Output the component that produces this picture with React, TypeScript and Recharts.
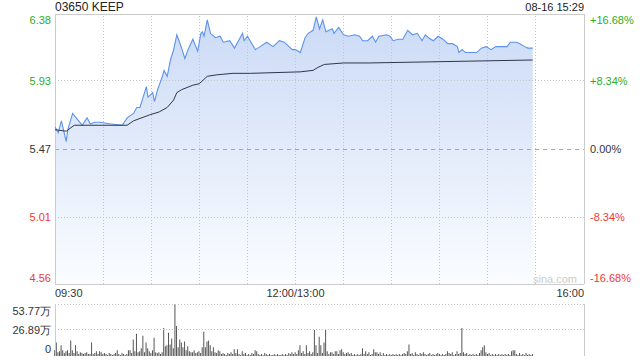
import React from 'react';
import { ComposedChart, Area, Line, Bar, XAxis, YAxis, ReferenceLine } from 'recharts';

// minutes since 09:30 (lunch break removed, 330 = 16:00)
const priceTimes = [0, 2, 4, 7, 8, 11, 14, 17, 20, 22, 25, 28, 34, 42, 45, 49, 51, 53, 57, 58, 61, 62, 64, 67, 68, 70, 72, 74, 76, 77, 79, 81, 83, 86, 89, 91, 92, 93, 95, 97, 100, 103, 105, 109, 112, 117, 118, 120, 125, 128, 132, 136, 140, 143, 148, 150, 153, 156, 158, 161, 163, 165, 167, 169, 173, 174, 177, 180, 183, 187, 190, 192, 195, 198, 200, 202, 207, 209, 211, 214, 217, 220, 223, 226, 229, 231, 233, 236, 239, 242, 245, 248, 251, 252, 254, 256, 258, 263, 266, 269, 272, 275, 279, 282, 284, 288, 290, 293, 295, 298];
const prices = [5.62, 5.58, 5.66, 5.52, 5.60, 5.71, 5.67, 5.63, 5.68, 5.64, 5.65, 5.65, 5.64, 5.63, 5.68, 5.71, 5.75, 5.75, 5.89, 5.82, 5.85, 5.79, 5.87, 5.96, 6.00, 5.96, 6.07, 6.14, 6.24, 6.21, 6.15, 6.08, 6.14, 6.21, 6.13, 6.25, 6.26, 6.23, 6.34, 6.25, 6.22, 6.23, 6.19, 6.20, 6.15, 6.25, 6.20, 6.23, 6.14, 6.16, 6.19, 6.16, 6.20, 6.19, 6.14, 6.14, 6.12, 6.22, 6.25, 6.27, 6.36, 6.28, 6.34, 6.26, 6.28, 6.25, 6.29, 6.24, 6.23, 6.24, 6.23, 6.20, 6.20, 6.23, 6.19, 6.23, 6.24, 6.23, 6.20, 6.21, 6.21, 6.27, 6.24, 6.25, 6.20, 6.24, 6.22, 6.20, 6.23, 6.21, 6.18, 6.18, 6.16, 6.12, 6.14, 6.12, 6.12, 6.12, 6.15, 6.16, 6.14, 6.16, 6.16, 6.16, 6.19, 6.19, 6.18, 6.16, 6.15, 6.15];

const avgTimes = [0, 7, 12, 45, 49, 59, 65, 70, 74, 76, 79, 86, 90, 95, 101, 111, 122, 153, 161, 164, 168, 180, 196, 298];
const avgPrices = [5.60, 5.59, 5.63, 5.63, 5.66, 5.70, 5.72, 5.75, 5.80, 5.85, 5.87, 5.90, 5.91, 5.96, 5.97, 5.98, 5.98, 5.99, 6.00, 6.02, 6.04, 6.05, 6.05, 6.07];

// volume per minute, in 万
const volumes = [
  6, 14, 4, 5, 11, 6, 3, 5, 6, 3, 16, 6, 3, 11, 5, 2, 4, 3, 2, 3,
  4, 2, 2, 14, 2, 3, 5, 2, 5, 4, 2, 3, 2, 1, 3, 2, 1, 2, 3, 6,
  2, 1, 3, 2, 1, 2, 6, 6, 3, 17, 5, 23, 4, 5, 8, 21, 4, 14, 8, 5,
  3, 6, 19, 4, 3, 4, 2, 4, 29, 10, 11, 24, 12, 18, 8, 53.5, 31, 9, 17, 14,
  9, 15, 6, 10, 5, 4, 4, 6, 3, 4, 5, 3, 9, 25, 9, 15, 16, 11, 5, 9,
  4, 3, 6, 5, 2, 3, 2, 1, 3, 2, 4, 2, 7, 3, 7, 2, 1, 5, 2, 3,
  1, 2, 1, 3, 2, 6, 5, 2, 1, 2, 1, 3, 2, 1, 2, 1, 1, 2, 1, 2,
  1, 1, 2, 1, 2, 1, 3, 2, 4, 2, 4, 2, 6, 11, 3, 5, 2, 11, 3, 5,
  2, 4, 27, 11, 3, 20, 11, 3, 14, 27.6, 5, 2, 4, 4, 2, 5, 5, 2, 6, 7,
  4, 2, 3, 4, 2, 3, 1, 2, 1, 2, 1, 2, 8, 2, 5, 2, 4, 1, 2, 7,
  4, 4, 2, 4, 1, 3, 1, 2, 1, 2, 1, 2, 1, 2, 1, 2, 1, 2, 3, 2,
  5, 12, 2, 3, 1, 4, 2, 1, 3, 2, 4, 2, 1, 2, 3, 1, 2, 1, 2, 3,
  2, 1, 2, 1, 2, 5, 3, 2, 4, 1, 2, 5, 2, 3, 29, 4, 2, 3, 1, 2,
  1, 2, 1, 2, 1, 3, 6, 9, 11, 4, 2, 3, 1, 2, 1, 2, 1, 2, 1, 2,
  1, 2, 1, 2, 1, 5, 6, 6, 2, 1, 3, 1, 2, 1, 3, 1, 2, 1, 2,
];

const prevClose = 5.47;
const priceTicks = [4.56, 5.01, 5.47, 5.93, 6.38];
const pctLabels = ['-16.68%', '-8.34%', '0.00%', '+8.34%', '+16.68%'];
const volTicks = [0, 26.89, 53.77];
const timeTicks = [0, 150, 330];
const timeLabels = ['09:30', '12:00/13:00', '16:00'];
const gridMinutes = [30, 60, 90, 120, 150, 180, 210, 240, 270, 300];

const GREEN = '#2aae2a';
const RED = '#ee3a33';
const FONT = '"Liberation Sans", Arial, sans-serif';

const allTimes = Array.from(new Set([...priceTimes, ...avgTimes])).sort((a, b) => a - b);
const mainData = allTimes.map((t) => {
  const pi = priceTimes.indexOf(t);
  const ai = avgTimes.indexOf(t);
  return { t, price: pi >= 0 ? prices[pi] : undefined, avg: ai >= 0 ? avgPrices[ai] : undefined };
});
const volData = volumes.map((v, i) => ({ t: i, vol: v }));

// first/last labels are pulled inside the plot box
const edgeShift = (v: number, list: number[], n: number) => {
  if (v === list[list.length - 1]) return 4 + n;
  if (v === list[0]) return 4 - n;
  return 4;
};

const PriceTick = (props: any) => {
  const { x, y, payload } = props;
  const v = payload.value;
  const fill = v > prevClose ? GREEN : v < prevClose ? RED : '#333';
  return <text x={x} y={y} dy={edgeShift(v, priceTicks, 6)} textAnchor="end" fill={fill} fontSize={11} fontFamily={FONT}>{v.toFixed(2)}</text>;
};

const PctTick = (props: any) => {
  const { x, y, payload } = props;
  const v = payload.value;
  const i = priceTicks.indexOf(v);
  const fill = v > prevClose ? GREEN : v < prevClose ? RED : '#333';
  return <text x={x} y={y} dy={edgeShift(v, priceTicks, 6)} textAnchor="start" fill={fill} fontSize={11} fontFamily={FONT}>{pctLabels[i]}</text>;
};

const TimeTick = (props: any) => {
  const { x, y, index } = props;
  const anchor = index === 0 ? 'start' : index === timeTicks.length - 1 ? 'end' : 'middle';
  return <text x={x} y={y} dy={13} textAnchor={anchor} fill="#333" fontSize={11} fontFamily={FONT}>{timeLabels[index]}</text>;
};

const VolTick = (props: any) => {
  const { x, y, payload } = props;
  const v = payload.value;
  const label = v === 0 ? '0' : v.toFixed(2) + '万';
  return <text x={x} y={y} dy={edgeShift(v, volTicks, 7)} textAnchor="end" fill="#333" fontSize={11} fontFamily={FONT}>{label}</text>;
};

const dotted = { stroke: '#c4c4c4', strokeDasharray: '1 2', shapeRendering: 'crispEdges' } as any;
const solid = { stroke: '#cccccc', shapeRendering: 'crispEdges' } as any;

export default function App() {
  return (
    <div style={{ position: 'absolute', left: 0, top: 0, width: 640, height: 360, background: '#fff', fontFamily: FONT }}>
      <div style={{ position: 'absolute', left: 55, top: 0, fontSize: 12, lineHeight: '14px', color: '#222' }}>03650 KEEP</div>
      <div style={{ position: 'absolute', right: 56, top: 0, fontSize: 11, lineHeight: '14px', color: '#222' }}>08-16 15:29</div>
      <div style={{ position: 'absolute', left: 533, top: 273, fontSize: 11, lineHeight: '13px', color: '#ccc' }}>sina.com</div>

      <div style={{ position: 'absolute', left: 0, top: 0 }}>
        <ComposedChart width={640} height={300} data={mainData} margin={{ top: 14, right: 0, bottom: 0, left: 0 }}>
          <defs>
            <linearGradient id="priceFill" x1="0" y1="0" x2="0" y2="1">
              <stop offset="0%" stopColor="#cbdaf6" />
              <stop offset="100%" stopColor="#fbfdff" />
            </linearGradient>
          </defs>
          <XAxis dataKey="t" type="number" domain={[0, 330]} ticks={timeTicks} tick={<TimeTick />} interval={0}
            axisLine={false} tickLine={false} tickSize={0} tickMargin={0} height={16} allowDataOverflow />
          <YAxis yAxisId="p" domain={[4.56, 6.38]} ticks={priceTicks} tick={<PriceTick />} width={55} interval={0}
            axisLine={false} tickLine={false} tickSize={0} tickMargin={4} allowDataOverflow />
          <YAxis yAxisId="r" orientation="right" domain={[4.56, 6.38]} ticks={priceTicks} tick={<PctTick />} width={56} interval={0}
            axisLine={false} tickLine={false} tickSize={0} tickMargin={6} allowDataOverflow />
          <Area yAxisId="p" dataKey="price" type="linear" stroke="none" fill="url(#priceFill)" fillOpacity={1}
            connectNulls isAnimationActive={false} dot={false} activeDot={false} />
          {gridMinutes.map((m) => (
            <ReferenceLine key={m} yAxisId="p" x={m} {...dotted} />
          ))}
          <ReferenceLine yAxisId="p" y={5.93} {...dotted} />
          <ReferenceLine yAxisId="p" y={5.01} {...dotted} />
          <ReferenceLine yAxisId="p" y={prevClose} stroke="#e8915e" strokeDasharray="4 4" shapeRendering="crispEdges" />
          <ReferenceLine yAxisId="p" y={6.38} {...solid} />
          <ReferenceLine yAxisId="p" y={4.56} {...solid} />
          <ReferenceLine yAxisId="p" x={0} {...solid} />
          <ReferenceLine yAxisId="p" x={330} {...solid} />
          <Line yAxisId="p" dataKey="price" type="linear" stroke="#5b93ee" strokeWidth={1.1}
            connectNulls dot={false} activeDot={false} isAnimationActive={false} />
          <Line yAxisId="r" dataKey="avg" type="linear" stroke="#2e3748" strokeWidth={1}
            connectNulls dot={false} activeDot={false} isAnimationActive={false} />
        </ComposedChart>
      </div>

      <div style={{ position: 'absolute', left: 0, top: 300 }}>
        <ComposedChart width={640} height={60} data={volData} margin={{ top: 4, right: 56, bottom: 4, left: 0 }}>
          <XAxis dataKey="t" type="number" domain={[0, 330]} hide />
          <YAxis domain={[0, 53.77]} ticks={volTicks} tick={<VolTick />} width={55} interval={0}
            axisLine={false} tickLine={false} tickSize={0} tickMargin={4} allowDataOverflow />
          <ReferenceLine y={53.77} {...dotted} />
          <ReferenceLine y={26.89} {...dotted} />
          <ReferenceLine x={0} {...solid} />
          <ReferenceLine x={330} {...solid} />
          <Bar dataKey="vol" fill="#555" barSize={1} isAnimationActive={false} />
        </ComposedChart>
      </div>
    </div>
  );
}
